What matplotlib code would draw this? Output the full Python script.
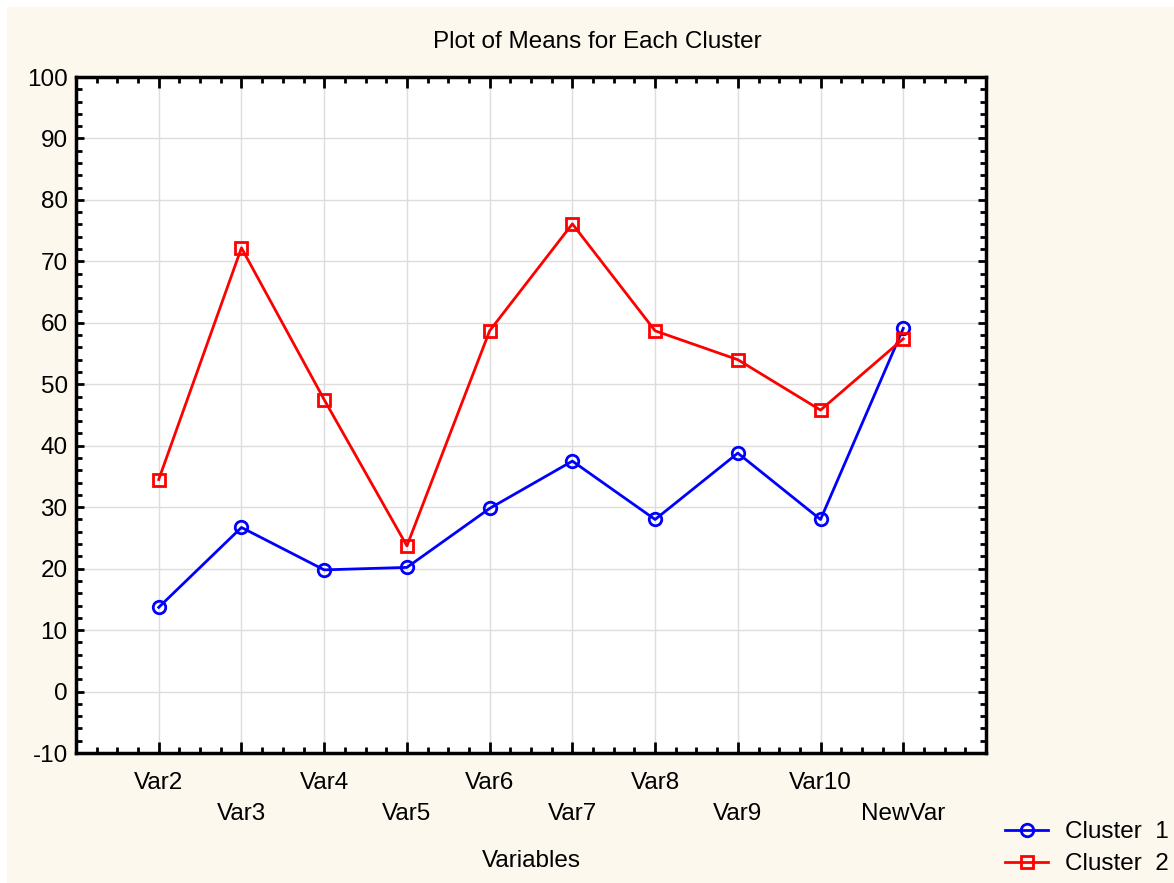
import matplotlib.pyplot as plt
from matplotlib.patches import Rectangle
from matplotlib.ticker import MultipleLocator

plt.rcParams['font.family'] = ['Liberation Sans', 'DejaVu Sans']
plt.rcParams['axes.unicode_minus'] = False

variables = ['Var2', 'Var3', 'Var4', 'Var5', 'Var6', 'Var7', 'Var8', 'Var9', 'Var10', 'NewVar']
cluster1 = [13.7, 26.7, 19.8, 20.2, 29.8, 37.5, 28.0, 38.8, 28.0, 59.1]
cluster2 = [34.5, 72.2, 47.5, 23.7, 58.7, 76.1, 58.7, 54.0, 45.8, 57.4]

fs = 17.5

fig = plt.figure(figsize=(11.74, 8.83), dpi=100)
fig.patch.set_facecolor('white')
cream = '#fdf8ed'
fig.patches.append(Rectangle((7 / 1174, 0), 1, 1 - 7 / 883, transform=fig.transFigure,
                             facecolor=cream, edgecolor='none', zorder=-10))

ax = fig.add_axes([76 / 1174, 1 - 753 / 883, (986 - 76) / 1174, (753 - 77) / 883])
ax.set_facecolor('white')

x = list(range(len(variables)))
ax.plot(x, cluster1, color='blue', lw=2, marker='o', ms=9, mfc='none', mew=2,
        label='Cluster  1', zorder=3)
ax.plot(x, cluster2, color='red', lw=2, marker='s', ms=9, mfc='none', mew=2,
        label='Cluster  2', zorder=3)

ax.set_xlim(-1, 10)
ax.set_ylim(-10, 100)
ax.yaxis.set_major_locator(MultipleLocator(10))
ax.yaxis.set_minor_locator(MultipleLocator(2))
ax.xaxis.set_minor_locator(MultipleLocator(0.25))
ax.set_xticks(x)
ax.set_xticklabels([v if i % 2 == 0 else '\n' + v for i, v in enumerate(variables)],
                   fontsize=fs, linespacing=1.5)
ax.tick_params(axis='y', labelsize=fs)

ax.grid(True, which='major', color='#dcdcdc', lw=1)
ax.set_axisbelow(True)
for s in ax.spines.values():
    s.set_linewidth(2.5)
ax.tick_params(which='both', direction='in', top=True, right=True, width=2)
ax.tick_params(which='major', length=8)
ax.tick_params(which='minor', length=4)
ax.tick_params(axis='x', which='major', pad=14)
ax.tick_params(axis='y', which='major', pad=6, length=6)

fig.text(597 / 1174, 1 - 42 / 883, 'Plot of Means for Each Cluster',
         ha='center', va='center', fontsize=fs)
fig.text(0.5 * (76 + 986) / 1174, 1 - 861 / 883, 'Variables', ha='center', va='center', fontsize=fs)

fig.legend(loc='lower right', bbox_to_anchor=(1.0 + 11 / 1174, -8 / 883), frameon=False, fontsize=fs,
           handlelength=1.8, handletextpad=0.7, labelspacing=0.4, borderaxespad=0.25)

fig.savefig('out.png', dpi=100, facecolor=fig.get_facecolor())
